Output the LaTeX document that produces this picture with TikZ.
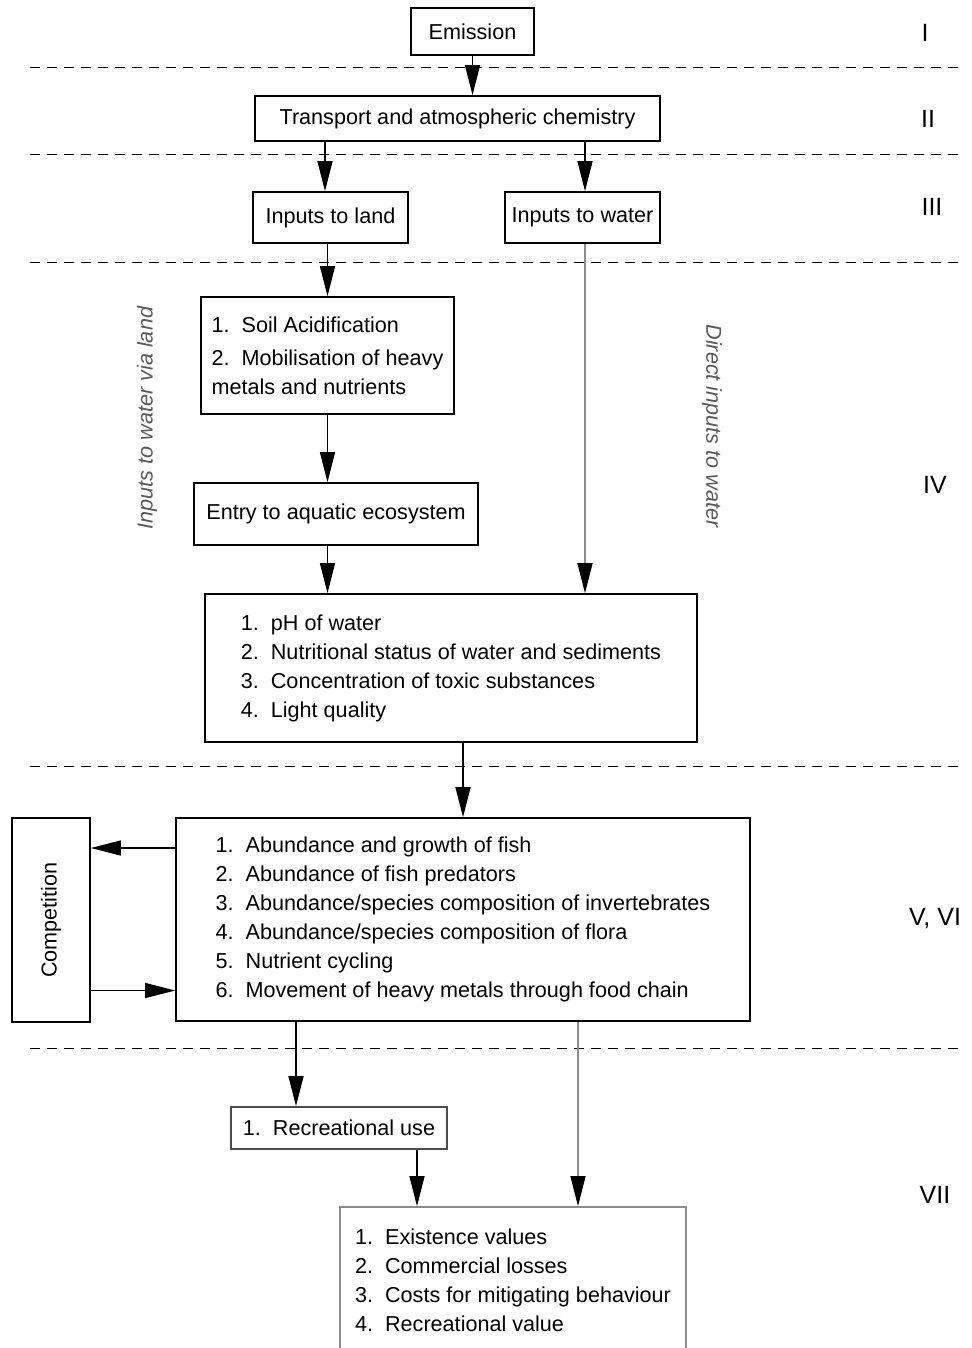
\documentclass[tikz,border=0pt]{standalone}
\usepackage{fontspec}
\setmainfont{Liberation Sans}
\usepackage{graphicx}
\usetikzlibrary{arrows.meta}

\tikzset{
  box/.style={draw, line width=0.8pt, inner sep=0pt, align=left,
    font=\fontsize{10.8}{14.5}\selectfont},
  flow/.style={-{Triangle[length=15pt,width=7.5pt]}, line width=0.6pt},
  faint/.style={flow, draw=black!45, -{Triangle[length=15pt,width=7.5pt,black]}},
  level/.style={dash pattern=on 5pt off 3.5pt, line width=0.5pt},
  stage/.style={font=\fontsize{12.5}{12.5}\selectfont},
  route/.style={font=\fontsize{10.8}{10.8}\selectfont\itshape, text=black!65},
}

\begin{document}
\begin{tikzpicture}[x=0.5pt,y=-0.5pt]
\useasboundingbox (0,0) rectangle (971,1348);

% level separators
\draw[level] (30,68) -- (958,68);
\draw[level] (30,155) -- (958,155);
\draw[level] (30,262) -- (958,262);
\draw[level] (30,766) -- (958,766);
\draw[level] (30,1048) -- (958,1048);

% stages
\node[stage] (s1) at (925,33) {I};
\node[stage] (s2) at (928,119) {II};
\node[stage] (s3) at (932,207) {III};
\node[stage] (s4) at (935,485) {IV};
\node[stage] (s5) at (935,918) {V, VI};
\node[stage] (s7) at (935,1195) {VII};

% boxes
\node[box,minimum width=61.5pt,minimum height=23.5pt] (emission) at (472.5,31.5) {Emission};
\node[box,minimum width=202.5pt,minimum height=22.5pt] (transport) at (457.5,118.5) {Transport and atmospheric chemistry};
\node[box,minimum width=77.5pt,minimum height=25.5pt] (land) at (330.5,217.5) {Inputs to land};
\node[box,minimum width=77.5pt,minimum height=25.5pt] (water) at (582.5,217.5) {Inputs to water};
\node[box,minimum width=126.5pt,minimum height=58.5pt] (soil) at (327.5,355.5)
  {1.\ \ Soil Acidification\\[2pt] 2.\ \ Mobilisation of heavy\\ metals and nutrients};
\node[box,minimum width=142pt,minimum height=31pt] (entry) at (336,514) {Entry to aquatic ecosystem};
\node[box,minimum width=246pt,minimum height=74pt] (ph) at (451,668)
  {1.\ \ pH of water\\ 2.\ \ Nutritional status of water and sediments\\
   3.\ \ Concentration of toxic substances\\ 4.\ \ Light quality};
\node[box,minimum width=287pt,minimum height=101.5pt] (abund) at (463,919.5)
  {1.\ \ Abundance and growth of fish\\ 2.\ \ Abundance of fish predators\\
   3.\ \ Abundance/species composition of invertebrates\\
   4.\ \ Abundance/species composition of flora\\ 5.\ \ Nutrient cycling\\
   6.\ \ Movement of heavy metals through food chain};
\node[box,minimum width=39pt,minimum height=102pt] (comp) at (51,920) {\rotatebox{90}{Competition}};
\node[box,draw=black!70,minimum width=108pt,minimum height=21pt] (rec) at (339,1128) {1.\ \ Recreational use};
\node[box,draw=black!45,minimum width=173pt,minimum height=73pt] (exist) at (513,1280)
  {1.\ \ Existence values\\ 2.\ \ Commercial losses\\
   3.\ \ Costs for mitigating behaviour\\ 4.\ \ Recreational value};

% side labels
\node[route,rotate=90] (vialand) at (147,418) {Inputs to water via land};
\node[route,rotate=-90] (direct) at (712,426) {Direct inputs to water};

% arrows
\draw[flow] (emission) -- (emission |- transport.north);
\draw[flow] ([xshift=-2.75pt]land.north |- transport.south) -- ([xshift=-2.75pt]land.north);
\draw[flow] ([xshift=1.25pt]water.north |- transport.south) -- ([xshift=1.25pt]water.north);
\draw[flow] (soil |- land.south) -- (soil);
\draw[flow] (soil) -- (soil |- entry.north);
\draw[flow] (soil |- entry.south) -- (soil |- ph.north);
\draw[faint] ([xshift=1.25pt]water.south) -- ([xshift=1.25pt]water.south |- ph.north);
\draw[flow] (abund |- ph.south) -- (abund);
\draw[flow] ([yshift=35.75pt]abund.west) -- ([yshift=35.75pt]abund.west -| comp.east);
\draw[flow] ([yshift=-35.25pt]comp.east) -- ([yshift=-35.25pt]comp.east -| abund.west);
\draw[flow] ([xshift=-21.5pt]rec.north |- abund.south) -- ([xshift=-21.5pt]rec.north);
\draw[flow] ([xshift=39pt]rec.south) -- ([xshift=39pt]rec.south |- exist.north);
\draw[faint] ([xshift=32.5pt]exist.north |- abund.south) -- ([xshift=32.5pt]exist.north);
\end{tikzpicture}
\end{document}
